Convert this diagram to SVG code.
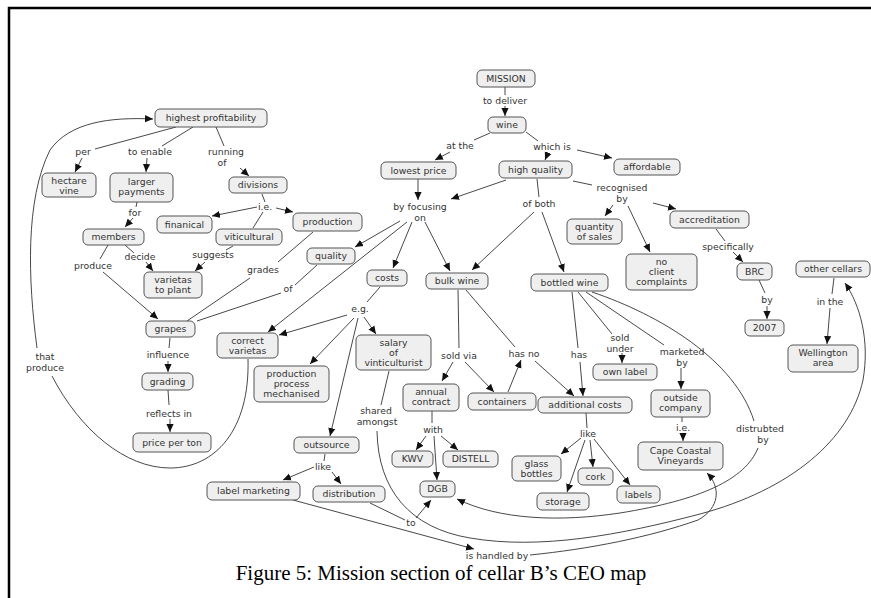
<svg xmlns="http://www.w3.org/2000/svg" width="871" height="598" viewBox="0 0 871 598">
<style>
.node rect{fill:#efefef;stroke:#555;stroke-width:1}
text{font-family:"DejaVu Sans",Verdana,sans-serif;font-size:9.3px;fill:#333;text-anchor:middle}
.lbl text{fill:#333}
#connectors path{fill:none;stroke:#333;stroke-width:0.9}
.cap{font-family:"Liberation Serif","Times New Roman",serif;font-size:21px;fill:#000}
</style>
<defs>
<marker id="ah" viewBox="0 0 10 10" refX="10" refY="5" markerWidth="8" markerHeight="8" orient="auto" markerUnits="userSpaceOnUse">
<path d="M0,0.5 L10,5 L0,9.5 z" fill="#111"/>
</marker>
</defs>
<rect width="871" height="598" fill="#fff"/>
<path d="M9,600 V8 H872" fill="none" stroke="#000" stroke-width="2.5"/>

<g id="connectors">
<path d="M505,87 L505,95"/>
<path d="M505,106 L505,116" marker-end="url(#ah)"/>
<path d="M490,133 L474,140"/>
<path d="M450,152 L435,160" marker-end="url(#ah)"/>
<path d="M526,132 L538,141"/>
<path d="M548,153 L545,160" marker-end="url(#ah)"/>
<path d="M577,150 L612,158" marker-end="url(#ah)"/>
<path d="M418,179 L418,200" marker-end="url(#ah)"/>
<path d="M506,180 L451,199" marker-end="url(#ah)"/>
<path d="M537,179 L539,197"/>
<path d="M534,212 L472,270" marker-end="url(#ah)"/>
<path d="M542,212 L564,272" marker-end="url(#ah)"/>
<path d="M573,181 L592,185"/>
<path d="M613,205 L605,216" marker-end="url(#ah)"/>
<path d="M628,206 L650,252" marker-end="url(#ah)"/>
<path d="M653,203 L676,209" marker-end="url(#ah)"/>
<path d="M716,229 L725,241"/>
<path d="M733,252 L743,262" marker-end="url(#ah)"/>
<path d="M759,280 L765,293"/>
<path d="M767,306 L767,319" marker-end="url(#ah)"/>
<path d="M834,278 L832,294"/>
<path d="M830,308 L827,344" marker-end="url(#ah)"/>
<path d="M176,127 L95,149"/>
<path d="M82,158 L75,172" marker-end="url(#ah)"/>
<path d="M193,127 L162,146"/>
<path d="M147,158 L146,172" marker-end="url(#ah)"/>
<path d="M216,127 L224,146"/>
<path d="M240,168 L249,176" marker-end="url(#ah)"/>
<path d="M262,194 L265,202"/>
<path d="M257,207 L212,216" marker-end="url(#ah)"/>
<path d="M276,208 L293,212" marker-end="url(#ah)"/>
<path d="M263,212 L253,228"/>
<path d="M137,202 L136,207"/>
<path d="M133,218 L125,227" marker-end="url(#ah)"/>
<path d="M108,245 L100,259"/>
<path d="M103,272 L158,319" marker-end="url(#ah)"/>
<path d="M125,245 L134,253"/>
<path d="M146,262 L153,271" marker-end="url(#ah)"/>
<path d="M233,246 L226,250"/>
<path d="M205,262 L195,271" marker-end="url(#ah)"/>
<path d="M313,232 L278,262"/>
<path d="M250,278 L187,321"/>
<path d="M317,265 L295,285"/>
<path d="M281,293 L197,321"/>
<path d="M400,221 L355,247" marker-end="url(#ah)"/>
<path d="M407,222 L268,332" marker-end="url(#ah)"/>
<path d="M412,222 L393,268" marker-end="url(#ah)"/>
<path d="M425,222 L450,271" marker-end="url(#ah)"/>
<path d="M380,287 L367,302"/>
<path d="M347,315 L279,335" marker-end="url(#ah)"/>
<path d="M354,318 L310,364" marker-end="url(#ah)"/>
<path d="M364,317 L376,334" marker-end="url(#ah)"/>
<path d="M358,318 L330,436" marker-end="url(#ah)"/>
<path d="M389,371 L381,405"/>
<path d="M248,359 C250,430 215,468 170,468 C125,468 80,430 52,376"/>
<path d="M37,348 C28,280 25,200 50,150 C70,122 110,117 153,119" marker-end="url(#ah)"/>
<path d="M325,454 L324,461"/>
<path d="M314,467 L283,480" marker-end="url(#ah)"/>
<path d="M332,472 L341,484" marker-end="url(#ah)"/>
<path d="M293,500 L474,549" marker-end="url(#ah)"/>
<path d="M370,503 L405,520"/>
<path d="M416,518 L431,500" marker-end="url(#ah)"/>
<path d="M377,431 C378,490 410,528 470,538 C540,550 620,535 700,514 C790,490 850,440 863,380 C870,340 860,305 845,283" marker-end="url(#ah)"/>
<path d="M530,555 C590,549 650,537 698,520 C720,508 721,487 707,473" marker-end="url(#ah)"/>
<path d="M592,292 C660,315 735,360 754,421"/>
<path d="M758,448 C745,480 700,500 620,513 C560,522 500,520 457,499" marker-end="url(#ah)"/>
<path d="M458,290 L459,348"/>
<path d="M453,362 L442,381" marker-end="url(#ah)"/>
<path d="M465,362 L494,392" marker-end="url(#ah)"/>
<path d="M466,290 L515,347"/>
<path d="M535,361 L574,396" marker-end="url(#ah)"/>
<path d="M508,392 L521,360" marker-end="url(#ah)"/>
<path d="M572,292 L578,348"/>
<path d="M580,362 L583,396" marker-end="url(#ah)"/>
<path d="M578,292 L612,334"/>
<path d="M622,353 L622,363" marker-end="url(#ah)"/>
<path d="M586,292 L664,345"/>
<path d="M681,368 L681,389" marker-end="url(#ah)"/>
<path d="M682,417 L682,422"/>
<path d="M683,433 L683,441" marker-end="url(#ah)"/>
<path d="M586,413 L587,428"/>
<path d="M581,438 L561,454" marker-end="url(#ah)"/>
<path d="M585,440 L567,492" marker-end="url(#ah)"/>
<path d="M590,440 L593,467" marker-end="url(#ah)"/>
<path d="M594,439 L630,485" marker-end="url(#ah)"/>
<path d="M432,411 L432,423"/>
<path d="M426,436 L416,450" marker-end="url(#ah)"/>
<path d="M434,436 L437,480" marker-end="url(#ah)"/>
<path d="M441,436 L458,450" marker-end="url(#ah)"/>
<path d="M170,338 L169,348"/>
<path d="M168,361 L168,372" marker-end="url(#ah)"/>
<path d="M168,390 L169,405"/>
<path d="M170,419 L170,432" marker-end="url(#ah)"/>
</g>

<g id="labels" class="lbl">
<text x="505" y="104">to deliver</text>
<text x="460" y="149">at the</text>
<text x="552" y="150">which is</text>
<text x="420" y="210">by focusing</text><text x="420" y="221">on</text>
<text x="539" y="207">of both</text>
<text x="622" y="191">recognised</text><text x="622" y="202">by</text>
<text x="728" y="250">specifically</text>
<text x="767" y="303">by</text>
<text x="830" y="305">in the</text>
<text x="83" y="155">per</text>
<text x="150" y="155">to enable</text>
<text x="226" y="155">running</text><text x="222" y="166">of</text>
<text x="265" y="210">i.e.</text>
<text x="135" y="216">for</text>
<text x="93" y="269">produce</text>
<text x="140" y="260">decide</text>
<text x="213" y="258">suggests</text>
<text x="263" y="273">grades</text>
<text x="288" y="292">of</text>
<text x="360" y="312">e.g.</text>
<text x="376" y="414">shared</text><text x="377" y="425">amongst</text>
<text x="459" y="359">sold via</text>
<text x="524" y="357">has no</text>
<text x="579" y="358">has</text>
<text x="620" y="341">sold</text><text x="620" y="352">under</text>
<text x="682" y="355">marketed</text><text x="682" y="366">by</text>
<text x="683" y="431">i.e.</text>
<text x="588" y="437">like</text>
<text x="433" y="433">with</text>
<text x="323" y="470">like</text>
<text x="411" y="526">to</text>
<text x="497" y="559">is handled by</text>
<text x="760" y="432">distrubted</text><text x="763" y="443">by</text>
<text x="45" y="360">that</text><text x="45" y="371">produce</text>
<text x="168" y="358">influence</text>
<text x="169" y="417">reflects in</text>
</g>

<g id="n-mission" class="node"><rect x="477" y="70" width="58" height="17" rx="5"/><text x="506" y="81.8">MISSION</text></g>
<g id="n-wine" class="node"><rect x="488" y="117" width="38" height="16" rx="5"/><text x="507" y="128.3">wine</text></g>
<g id="n-lowest-price" class="node"><rect x="381" y="162" width="75" height="17" rx="5"/><text x="418.5" y="173.8">lowest price</text></g>
<g id="n-high-quality" class="node"><rect x="499" y="161" width="73" height="17" rx="5"/><text x="535.5" y="172.8">high quality</text></g>
<g id="n-affordable" class="node"><rect x="614" y="159" width="66" height="16" rx="5"/><text x="647" y="170.3">affordable</text></g>
<g id="n-quantity-of-sales" class="node"><rect x="567" y="219" width="55" height="25" rx="5"/><text x="594.5" y="229.5">quantity</text><text x="594.5" y="239.5">of sales</text></g>
<g id="n-no-client-complaints" class="node"><rect x="626" y="254" width="71" height="36" rx="5"/><text x="661.5" y="265">no</text><text x="661.5" y="275">client</text><text x="661.5" y="285">complaints</text></g>
<g id="n-accreditation" class="node"><rect x="670" y="211" width="79" height="17" rx="5"/><text x="709.5" y="222.8">accreditation</text></g>
<g id="n-brc" class="node"><rect x="737" y="263" width="35" height="17" rx="5"/><text x="754.5" y="274.8">BRC</text></g>
<g id="n-2007" class="node"><rect x="745" y="320" width="39" height="16" rx="5"/><text x="764.5" y="331.3">2007</text></g>
<g id="n-other-cellars" class="node"><rect x="796" y="261" width="74" height="16" rx="5"/><text x="833" y="272.3">other cellars</text></g>
<g id="n-wellington-area" class="node"><rect x="788" y="345" width="70" height="27" rx="5"/><text x="823" y="356">Wellington</text><text x="823" y="366">area</text></g>
<g id="n-highest-profitability" class="node"><rect x="155" y="109" width="112" height="18" rx="5"/><text x="211" y="121.3">highest profitability</text></g>
<g id="n-hectare-vine" class="node"><rect x="42" y="173" width="54" height="24" rx="5"/><text x="69" y="184">hectare</text><text x="69" y="194">vine</text></g>
<g id="n-larger-payments" class="node"><rect x="110" y="173" width="63" height="29" rx="5"/><text x="141.5" y="185">larger</text><text x="141.5" y="195">payments</text></g>
<g id="n-divisions" class="node"><rect x="229" y="177" width="58" height="16" rx="5"/><text x="258" y="188.3">divisions</text></g>
<g id="n-finanical" class="node"><rect x="157" y="216" width="55" height="17" rx="5"/><text x="184.5" y="227.8">finanical</text></g>
<g id="n-production" class="node"><rect x="293" y="213" width="69" height="18" rx="5"/><text x="327.5" y="225.3">production</text></g>
<g id="n-viticultural" class="node"><rect x="216" y="229" width="66" height="16" rx="5"/><text x="249" y="240.3">viticultural</text></g>
<g id="n-members" class="node"><rect x="83" y="229" width="61" height="16" rx="5"/><text x="113.5" y="240.3">members</text></g>
<g id="n-varietas-to-plant" class="node"><rect x="144" y="272" width="58" height="26" rx="5"/><text x="173" y="283">varietas</text><text x="173" y="293">to plant</text></g>
<g id="n-quality" class="node"><rect x="307" y="248" width="48" height="16" rx="5"/><text x="331" y="259.3">quality</text></g>
<g id="n-costs" class="node"><rect x="367" y="270" width="40" height="16" rx="5"/><text x="387" y="281.3">costs</text></g>
<g id="n-bulk-wine" class="node"><rect x="426" y="273" width="62" height="16" rx="5"/><text x="457" y="284.3">bulk wine</text></g>
<g id="n-bottled-wine" class="node"><rect x="531" y="274" width="77" height="17" rx="5"/><text x="569.5" y="285.8">bottled wine</text></g>
<g id="n-grapes" class="node"><rect x="146" y="321" width="49" height="16" rx="5"/><text x="170.5" y="332.3">grapes</text></g>
<g id="n-correct-varietas" class="node"><rect x="217" y="333" width="61" height="25" rx="5"/><text x="247.5" y="343.5">correct</text><text x="247.5" y="353.5">varietas</text></g>
<g id="n-production-process" class="node"><rect x="254" y="366" width="75" height="36" rx="5"/><text x="291.5" y="377">production</text><text x="291.5" y="387">process</text><text x="291.5" y="397">mechanised</text></g>
<g id="n-salary" class="node"><rect x="356" y="335" width="75" height="35" rx="5"/><text x="393.5" y="346">salary</text><text x="393.5" y="356">of</text><text x="393.5" y="366">vinticulturist</text></g>
<g id="n-grading" class="node"><rect x="142" y="373" width="51" height="17" rx="5"/><text x="167.5" y="384.8">grading</text></g>
<g id="n-price-per-ton" class="node"><rect x="133" y="433" width="78" height="19" rx="5"/><text x="172" y="445.8">price per ton</text></g>
<g id="n-annual-contract" class="node"><rect x="403" y="384" width="56" height="27" rx="5"/><text x="431" y="395">annual</text><text x="431" y="405">contract</text></g>
<g id="n-containers" class="node"><rect x="468" y="393" width="68" height="17" rx="5"/><text x="502" y="404.8">containers</text></g>
<g id="n-additional-costs" class="node"><rect x="538" y="397" width="94" height="16" rx="5"/><text x="585" y="408.3">additional costs</text></g>
<g id="n-own-label" class="node"><rect x="593" y="364" width="64" height="16" rx="5"/><text x="625" y="375.3">own label</text></g>
<g id="n-outside-company" class="node"><rect x="651" y="390" width="59" height="27" rx="5"/><text x="680.5" y="401">outside</text><text x="680.5" y="411">company</text></g>
<g id="n-cape-coastal" class="node"><rect x="638" y="442" width="85" height="28" rx="5"/><text x="680.5" y="453.5">Cape Coastal</text><text x="680.5" y="463.5">Vineyards</text></g>
<g id="n-outsource" class="node"><rect x="294" y="437" width="65" height="16" rx="5"/><text x="326.5" y="448.3">outsource</text></g>
<g id="n-kwv" class="node"><rect x="392" y="451" width="41" height="16" rx="5"/><text x="412.5" y="462.3">KWV</text></g>
<g id="n-distell" class="node"><rect x="443" y="451" width="55" height="16" rx="5"/><text x="470.5" y="462.3">DISTELL</text></g>
<g id="n-glass-bottles" class="node"><rect x="512" y="456" width="49" height="25" rx="5"/><text x="536.5" y="466.5">glass</text><text x="536.5" y="476.5">bottles</text></g>
<g id="n-cork" class="node"><rect x="578" y="468" width="35" height="17" rx="5"/><text x="595.5" y="479.8">cork</text></g>
<g id="n-storage" class="node"><rect x="537" y="493" width="52" height="17" rx="5"/><text x="563" y="504.8">storage</text></g>
<g id="n-labels" class="node"><rect x="617" y="486" width="43" height="17" rx="5"/><text x="638.5" y="497.8">labels</text></g>
<g id="n-label-marketing" class="node"><rect x="207" y="482" width="93" height="18" rx="5"/><text x="253.5" y="494.3">label marketing</text></g>
<g id="n-distribution" class="node"><rect x="313" y="486" width="72" height="16" rx="5"/><text x="349" y="497.3">distribution</text></g>
<g id="n-dgb" class="node"><rect x="420" y="481" width="35" height="16" rx="5"/><text x="437.5" y="492.3">DGB</text></g>

<text class="cap" x="441" y="580">Figure 5: Mission section of cellar B’s CEO map</text>
</svg>
